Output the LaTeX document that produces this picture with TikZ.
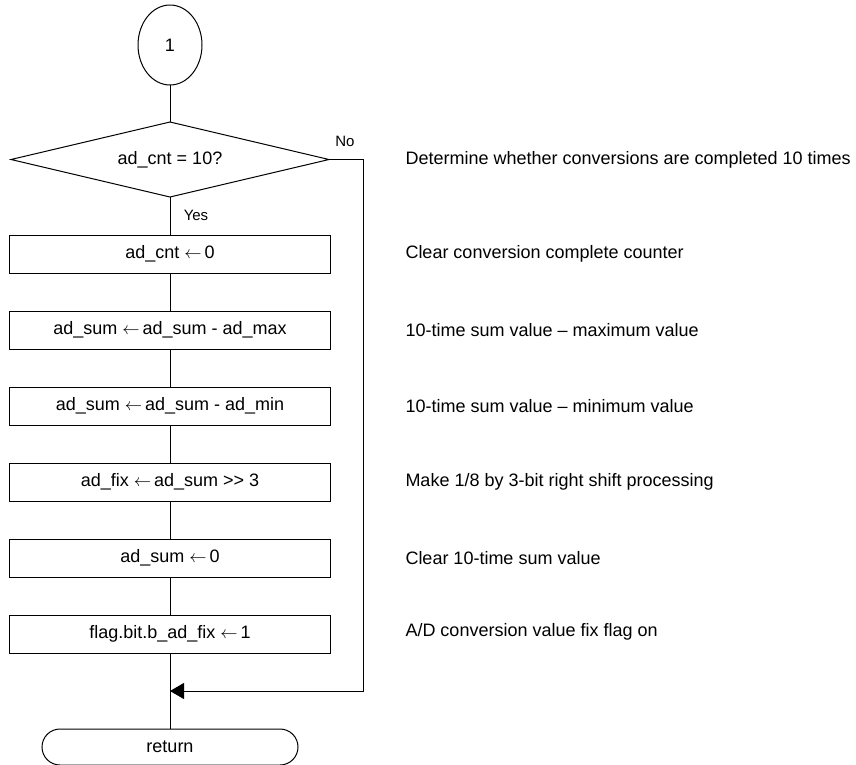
\documentclass[tikz,border=0pt]{standalone}
\usepackage{fontspec}
\setmainfont{Liberation Sans}
\usepackage{tikz}
\usetikzlibrary{positioning,arrows.meta,calc,shapes.geometric,shapes.misc}

\newcommand{\getsto}{ $\leftarrow$\,}

\begin{document}
\begin{tikzpicture}[
  font=\fontsize{18pt}{21pt}\selectfont,
  line width=1pt,
  proc/.style={draw, rectangle, minimum width=321pt, minimum height=38pt, inner sep=0pt, outer sep=0pt},
  cond/.style={draw, diamond, aspect=4.24, minimum width=318pt, minimum height=75pt, inner sep=0pt, outer sep=0pt},
  conn/.style={draw, ellipse, minimum width=64pt, minimum height=80pt, inner sep=0pt, outer sep=0pt},
  term/.style={draw, rounded rectangle, minimum width=256pt, minimum height=36pt, inner sep=0pt, outer sep=0pt},
  note/.style={anchor=west, inner sep=0pt},
  lbl/.style={font=\fontsize{15pt}{18pt}\selectfont, inner sep=0pt},
  arr/.style={-{Triangle[length=14pt, width=16pt]}},
  node distance=38pt
]
\useasboundingbox (0,0) rectangle (856pt,-764pt);
\node[conn] (start) at (170pt,-45pt) {1};
\node[cond, below=37pt of start] (check) {ad\_cnt = 10?};
\node[proc, below=of check] (clr) {ad\_cnt\getsto0};
\node[proc, below=of clr] (submax) {ad\_sum\getsto ad\_sum - ad\_max};
\node[proc, below=of submax] (submin) {ad\_sum\getsto ad\_sum - ad\_min};
\node[proc, below=of submin] (shift) {ad\_fix\getsto ad\_sum >{}> 3};
\node[proc, below=of shift] (sumclr) {ad\_sum\getsto0};
\node[proc, below=of sumclr] (fixflag) {flag.bit.b\_ad\_fix\getsto1};
\node[term, below=76pt of fixflag] (ret) {return};
\foreach \a/\b in {start/check, check/clr, clr/submax, submax/submin, submin/shift, shift/sumclr, sumclr/fixflag, fixflag/ret}{\draw (\a) -- (\b);}
% branch labels
\node[lbl] (yes) at (196pt,-215pt) {Yes};
\node[lbl] (no) at (345pt,-141pt) {No};
% No: skip to return
\coordinate (join) at ($(fixflag.south)!0.5!(ret.north)$);
\draw[arr] (check.east) -- ++(34pt,0) |- (join);
% comments
\node[note] (c1) at (405pt,-160pt) {Determine whether conversions are completed 10 times};
\node[note] (c2) at (405pt,-254pt) {Clear conversion complete counter};
\node[note] (c3) at (405pt,-330pt) {10-time sum value -- maximum value};
\node[note] (c4) at (405pt,-406pt) {10-time sum value -- minimum value};
\node[note] (c5) at (405pt,-482pt) {Make 1/8 by 3-bit right shift processing};
\node[note] (c6) at (405pt,-558pt) {Clear 10-time sum value};
\node[note] (c7) at (405pt,-632pt) {A/D conversion value fix flag on};
\end{tikzpicture}
\end{document}
